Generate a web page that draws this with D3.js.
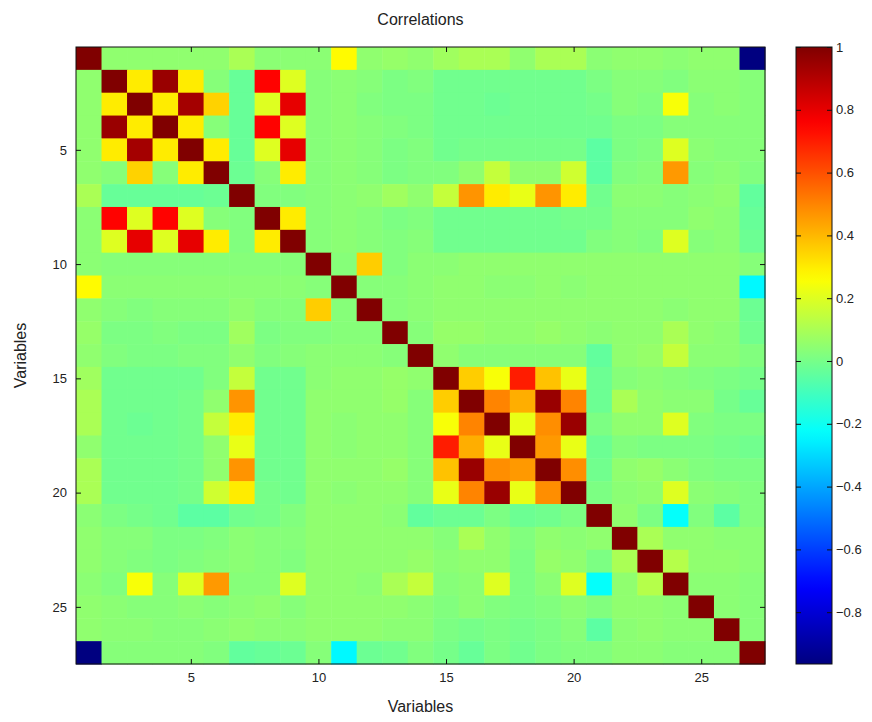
<!DOCTYPE html>
<html>
<head>
<meta charset="utf-8">
<script src="https://cdn.jsdelivr.net/npm/d3@7"></script>
<style>
  body { margin: 0; background: #fff; }
  text { font-family: "Liberation Sans", Arial, sans-serif; fill: #222; }
</style>
</head>
<body>
<div id="chart"></div>
<script>
// Variable indices 1..27
const variables = d3.range(1, 28);
const axisTicks = [5, 10, 15, 20, 25];
const colorTicks = [1, 0.8, 0.6, 0.4, 0.2, 0, -0.2, -0.4, -0.6, -0.8];

// Lower triangle of the correlation matrix, row i holds columns 1..i
const corrLower = [
  [1],
  [0.05, 1],
  [0.05, 0.3, 1],
  [0.05, 0.95, 0.3, 1],
  [0.05, 0.3, 0.93, 0.3, 1],
  [0.05, 0.03, 0.35, 0.03, 0.3, 1],
  [0.1, -0.03, -0.03, -0.03, -0.03, -0.02, 1],
  [0.04, 0.75, 0.2, 0.75, 0.2, 0.03, 0.02, 1],
  [0.04, 0.2, 0.8, 0.2, 0.8, 0.3, 0.02, 0.3, 1],
  [0.04, 0.03, 0.03, 0.03, 0.03, 0.03, 0.03, 0.03, 0.03, 1],
  [0.27, 0.04, 0.04, 0.04, 0.04, 0.04, 0.04, 0.04, 0.04, 0.03, 1],
  [0.05, 0.03, 0.02, 0.03, 0.03, 0.03, 0.05, 0.03, 0.03, 0.36, 0.03, 1],
  [0.06, 0.01, 0.01, 0.02, 0.01, 0.01, 0.08, 0.01, 0.02, 0.02, 0.03, 0.03, 1],
  [0.05, 0.02, 0.01, 0.01, 0.02, 0.02, 0.05, 0.02, 0.03, 0.04, 0.04, 0.04, 0.03, 1],
  [0.08, -0.01, -0.01, -0.01, -0.01, 0.02, 0.15, -0.01, -0.01, 0.04, 0.05, 0.05, 0.06, 0.05, 1],
  [0.1, -0.01, -0.01, -0.01, 0.0, 0.05, 0.47, -0.01, -0.01, 0.05, 0.05, 0.05, 0.06, 0.03, 0.36, 1],
  [0.1, -0.01, -0.02, -0.01, 0.0, 0.15, 0.3, -0.01, -0.01, 0.05, 0.04, 0.05, 0.05, 0.03, 0.25, 0.5, 1],
  [0.05, -0.01, -0.01, -0.01, 0.0, 0.05, 0.22, -0.01, -0.01, 0.05, 0.04, 0.05, 0.05, 0.03, 0.7, 0.42, 0.22, 1],
  [0.1, -0.01, -0.01, -0.01, 0.0, 0.05, 0.47, -0.01, -0.01, 0.05, 0.05, 0.05, 0.06, 0.03, 0.38, 0.95, 0.48, 0.46, 1],
  [0.1, -0.01, -0.01, -0.01, 0.0, 0.17, 0.3, 0.0, -0.01, 0.05, 0.04, 0.05, 0.05, 0.03, 0.22, 0.5, 0.95, 0.22, 0.48, 1],
  [0.04, 0.01, 0.0, -0.01, -0.05, -0.05, -0.01, 0.0, 0.02, 0.05, 0.05, 0.05, 0.04, -0.04, -0.02, -0.02, 0.01, -0.02, -0.01, 0.01, 1],
  [0.05, 0.03, 0.03, 0.01, 0.01, 0.02, 0.04, 0.03, 0.03, 0.05, 0.05, 0.05, 0.05, 0.05, 0.03, 0.1, 0.05, 0.02, 0.05, 0.04, 0.05, 1],
  [0.05, 0.03, 0.02, 0.01, 0.02, 0.03, 0.04, 0.03, 0.02, 0.05, 0.05, 0.05, 0.05, 0.06, 0.04, 0.05, 0.05, 0.01, 0.06, 0.05, 0.01, 0.1, 1],
  [0.04, 0.02, 0.25, 0.03, 0.2, 0.46, 0.03, 0.03, 0.2, 0.05, 0.05, 0.04, 0.1, 0.15, 0.03, 0.04, 0.2, 0.01, 0.04, 0.2, -0.22, 0.05, 0.12, 1],
  [0.05, 0.04, 0.03, 0.03, 0.04, 0.03, 0.04, 0.05, 0.03, 0.05, 0.05, 0.05, 0.05, 0.04, 0.02, 0.04, 0.02, 0.01, 0.02, 0.04, 0.02, 0.05, 0.05, 0.04, 1],
  [0.05, 0.04, 0.04, 0.03, 0.03, 0.04, 0.05, 0.04, 0.04, 0.05, 0.05, 0.05, 0.04, 0.04, 0.01, 0.0, 0.01, 0.0, 0.01, 0.03, -0.05, 0.04, 0.05, 0.04, 0.04, 1],
  [-0.965, 0.03, 0.03, 0.03, 0.03, 0.02, -0.04, -0.03, -0.02, 0.03, -0.24, -0.02, -0.01, 0.02, 0.0, -0.03, 0.01, -0.01, 0.01, 0.02, 0.02, 0.04, 0.04, 0.03, 0.03, 0.03, 1]
];

// Build full symmetric cell list
const cells = [];
variables.forEach(i => {
  variables.forEach(j => {
    const v = i >= j ? corrLower[i - 1][j - 1] : corrLower[j - 1][i - 1];
    cells.push({ row: i, col: j, value: v });
  });
});

// MATLAB style jet colormap
function jet(t) {
  const c = x => Math.max(0, Math.min(1, x));
  const r = c(1.5 - Math.abs(4 * t - 3));
  const g = c(1.5 - Math.abs(4 * t - 2));
  const b = c(1.5 - Math.abs(4 * t - 1));
  return d3.rgb(r * 255, g * 255, b * 255).toString();
}

const margin = { top: 47, left: 76 };
const width = 689;
const height = 617;
const vMin = d3.min(cells, d => d.value);

const svg = d3.select("#chart").append("svg")
  .attr("width", 872)
  .attr("height", 722);

const g = svg.append("g")
  .attr("transform", `translate(${margin.left}, ${margin.top})`);

const xBand = d3.scaleBand().domain(variables).range([0, width]);
const yBand = d3.scaleBand().domain(variables).range([0, height]);
const xScale = d3.scaleLinear().domain([0.5, 27.5]).range([0, width]);
const yScale = d3.scaleLinear().domain([0.5, 27.5]).range([0, height]);
const color = d3.scaleSequential(jet).domain([vMin, 1]);

// Heatmap cells
g.selectAll(".cell")
  .data(cells)
  .enter()
  .append("rect")
  .attr("class", "cell")
  .attr("x", d => xBand(d.col))
  .attr("y", d => yBand(d.row))
  .attr("width", xBand.bandwidth() + 0.5)
  .attr("height", yBand.bandwidth() + 0.5)
  .attr("fill", d => color(d.value));

// Axes with inward ticks (MATLAB style)
const fmt = d3.format("d");
g.append("g")
  .attr("transform", `translate(0, ${height})`)
  .call(d3.axisBottom(xScale).tickValues(axisTicks).tickFormat(fmt).tickSizeInner(-5).tickSizeOuter(0).tickPadding(9))
  .call(a => a.select(".domain").remove());
g.append("g")
  .call(d3.axisTop(xScale).tickValues(axisTicks).tickFormat("").tickSizeInner(-5).tickSizeOuter(0))
  .call(a => a.select(".domain").remove());
g.append("g")
  .call(d3.axisLeft(yScale).tickValues(axisTicks).tickFormat(fmt).tickSizeInner(-5).tickSizeOuter(0).tickPadding(9))
  .call(a => a.select(".domain").remove());
g.append("g")
  .attr("transform", `translate(${width}, 0)`)
  .call(d3.axisRight(yScale).tickValues(axisTicks).tickFormat("").tickSizeInner(-5).tickSizeOuter(0))
  .call(a => a.select(".domain").remove());

g.selectAll(".tick text").style("font-size", "13px").attr("fill", "#222");
g.selectAll(".tick line").attr("stroke", "#111");

g.append("rect")
  .attr("width", width)
  .attr("height", height)
  .attr("fill", "none")
  .attr("stroke", "#111")
  .attr("stroke-width", 1);

// Titles
svg.append("text")
  .attr("x", margin.left + width / 2)
  .attr("y", 25)
  .attr("text-anchor", "middle")
  .style("font-size", "16px")
  .text("Correlations");

svg.append("text")
  .attr("x", margin.left + width / 2)
  .attr("y", 712)
  .attr("text-anchor", "middle")
  .style("font-size", "16px")
  .text("Variables");

svg.append("text")
  .attr("transform", "rotate(-90)")
  .attr("x", -(margin.top + height / 2))
  .attr("y", 26)
  .attr("text-anchor", "middle")
  .style("font-size", "16px")
  .text("Variables");

// Colorbar
const cbX = 796, cbW = 36;
const cbScale = d3.scaleLinear().domain([vMin, 1]).range([margin.top + height, margin.top]);

const grad = svg.append("defs").append("linearGradient")
  .attr("id", "jet-grad")
  .attr("x1", 0).attr("y1", 1).attr("x2", 0).attr("y2", 0);
grad.selectAll("stop")
  .data(d3.range(0, 1.0001, 0.02))
  .enter()
  .append("stop")
  .attr("offset", d => d)
  .attr("stop-color", d => jet(d));

svg.append("rect")
  .attr("x", cbX)
  .attr("y", margin.top)
  .attr("width", cbW)
  .attr("height", height)
  .attr("fill", "url(#jet-grad)")
  .attr("stroke", "#111");

const cbAxis = svg.append("g")
  .attr("transform", `translate(${cbX + cbW}, 0)`)
  .call(d3.axisRight(cbScale).tickValues(colorTicks).tickFormat(d => d === 0 ? "0" : d3.format("")(d)).tickSizeInner(-5).tickSizeOuter(0).tickPadding(4))
  .call(a => a.select(".domain").remove());
cbAxis.selectAll(".tick text").style("font-size", "13px").attr("fill", "#222");
cbAxis.selectAll(".tick line").attr("stroke", "#111");

svg.append("g")
  .attr("transform", `translate(${cbX}, 0)`)
  .call(d3.axisLeft(cbScale).tickValues(colorTicks).tickFormat("").tickSizeInner(-5).tickSizeOuter(0))
  .call(a => a.select(".domain").remove())
  .selectAll(".tick line").attr("stroke", "#111");
</script>
</body>
</html>
